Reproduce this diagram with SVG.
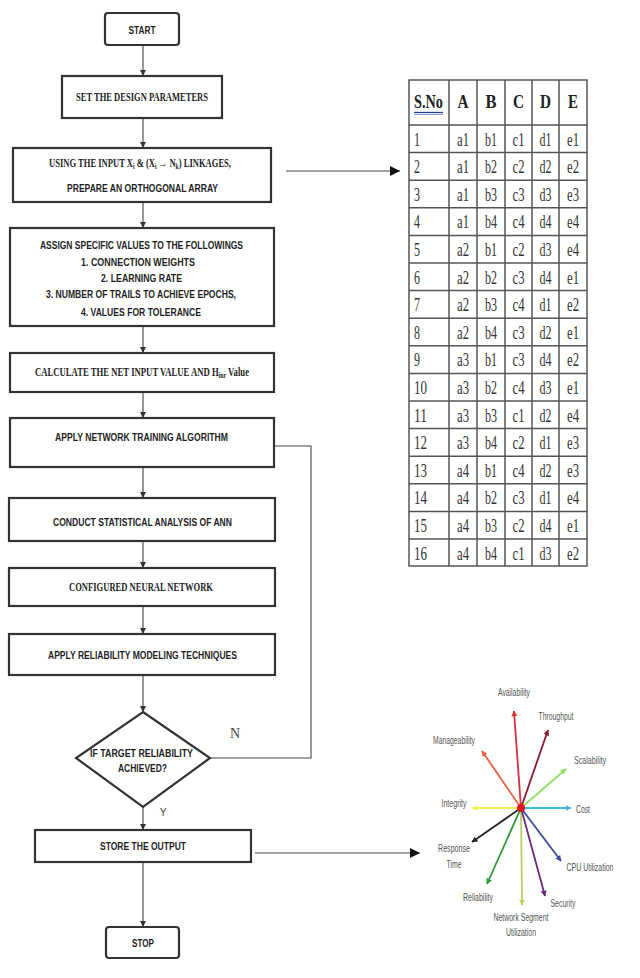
<svg xmlns="http://www.w3.org/2000/svg" width="640" height="978" viewBox="0 0 640 978">
  <style>
    .box { fill: #fff; stroke: #333; stroke-width: 2.2; }
    .sans { font-family: "Liberation Sans", Arial, sans-serif; font-weight: bold; font-size: 11px; fill: #1e1e1e; text-anchor: middle; }
    .serif { font-family: "Liberation Serif", "Times New Roman", serif; font-weight: bold; font-size: 12px; fill: #1e1e1e; text-anchor: middle; }
    .sub { font-size: 8px; baseline-shift: -2px; }
    .flow { fill: none; stroke: #444; stroke-width: 1.1; }
    .grid { stroke: #555; stroke-width: 1.5; fill: none; }
    .cell { font-family: "Liberation Serif", "Times New Roman", serif; font-size: 19px; fill: #333; text-anchor: middle; }
    .head { font-family: "Liberation Serif", "Times New Roman", serif; font-size: 19px; font-weight: bold; fill: #222; text-anchor: middle; }
    .lbl { font-family: "Liberation Sans", Arial, sans-serif; font-size: 11px; fill: #555; text-anchor: middle; }
    .spoke { fill: none; stroke-width: 1.8; }
  </style>
  <defs>
    <marker id="ah" viewBox="0 0 10 10" refX="10" refY="5" markerWidth="6" markerHeight="7" markerUnits="userSpaceOnUse" orient="auto">
      <path d="M0,0 L10,5 L0,10 Z" fill="#333"/>
    </marker>
    <marker id="ahBig" viewBox="0 0 10 10" refX="10" refY="5" markerWidth="10" markerHeight="11" markerUnits="userSpaceOnUse" orient="auto">
      <path d="M0,0 L10,5 L0,10 Z" fill="#111"/>
    </marker>
    <marker id="m-avail" viewBox="0 0 10 10" refX="9" refY="5" markerWidth="6" markerHeight="6" markerUnits="userSpaceOnUse" orient="auto"><path d="M0,0 L10,5 L0,10 Z" fill="#d4303a"/></marker>
    <marker id="m-thru" viewBox="0 0 10 10" refX="9" refY="5" markerWidth="6" markerHeight="6" markerUnits="userSpaceOnUse" orient="auto"><path d="M0,0 L10,5 L0,10 Z" fill="#8b1a2e"/></marker>
    <marker id="m-manage" viewBox="0 0 10 10" refX="9" refY="5" markerWidth="6" markerHeight="6" markerUnits="userSpaceOnUse" orient="auto"><path d="M0,0 L10,5 L0,10 Z" fill="#f0603a"/></marker>
    <marker id="m-scale" viewBox="0 0 10 10" refX="9" refY="5" markerWidth="6" markerHeight="6" markerUnits="userSpaceOnUse" orient="auto"><path d="M0,0 L10,5 L0,10 Z" fill="#8fe060"/></marker>
    <marker id="m-cost" viewBox="0 0 10 10" refX="9" refY="5" markerWidth="6" markerHeight="6" markerUnits="userSpaceOnUse" orient="auto"><path d="M0,0 L10,5 L0,10 Z" fill="#40b8d8"/></marker>
    <marker id="m-integ" viewBox="0 0 10 10" refX="9" refY="5" markerWidth="6" markerHeight="6" markerUnits="userSpaceOnUse" orient="auto"><path d="M0,0 L10,5 L0,10 Z" fill="#f0f050"/></marker>
    <marker id="m-resp" viewBox="0 0 10 10" refX="9" refY="5" markerWidth="6" markerHeight="6" markerUnits="userSpaceOnUse" orient="auto"><path d="M0,0 L10,5 L0,10 Z" fill="#222"/></marker>
    <marker id="m-rel" viewBox="0 0 10 10" refX="9" refY="5" markerWidth="6" markerHeight="6" markerUnits="userSpaceOnUse" orient="auto"><path d="M0,0 L10,5 L0,10 Z" fill="#2a9a3a"/></marker>
    <marker id="m-net" viewBox="0 0 10 10" refX="9" refY="5" markerWidth="6" markerHeight="6" markerUnits="userSpaceOnUse" orient="auto"><path d="M0,0 L10,5 L0,10 Z" fill="#b8d060"/></marker>
    <marker id="m-sec" viewBox="0 0 10 10" refX="9" refY="5" markerWidth="6" markerHeight="6" markerUnits="userSpaceOnUse" orient="auto"><path d="M0,0 L10,5 L0,10 Z" fill="#6a2a7a"/></marker>
    <marker id="m-cpu" viewBox="0 0 10 10" refX="9" refY="5" markerWidth="6" markerHeight="6" markerUnits="userSpaceOnUse" orient="auto"><path d="M0,0 L10,5 L0,10 Z" fill="#3a4a9a"/></marker>
  </defs>

  <rect width="640" height="978" fill="#fff"/>

  <!-- connectors -->
  <g id="connectors">
    <line class="flow" x1="143" y1="45" x2="143" y2="76" marker-end="url(#ah)"/>
    <line class="flow" x1="143" y1="118" x2="143" y2="148" marker-end="url(#ah)"/>
    <line class="flow" x1="143" y1="202" x2="143" y2="228" marker-end="url(#ah)"/>
    <line class="flow" x1="143" y1="326" x2="143" y2="353" marker-end="url(#ah)"/>
    <line class="flow" x1="143" y1="392" x2="143" y2="418" marker-end="url(#ah)"/>
    <line class="flow" x1="143" y1="467" x2="143" y2="498" marker-end="url(#ah)"/>
    <line class="flow" x1="143" y1="541" x2="143" y2="568" marker-end="url(#ah)"/>
    <line class="flow" x1="143" y1="606" x2="143" y2="634" marker-end="url(#ah)"/>
    <line class="flow" x1="143" y1="675" x2="143" y2="712" marker-end="url(#ah)"/>
    <line class="flow" x1="143" y1="807" x2="143" y2="830" marker-end="url(#ah)"/>
    <line class="flow" x1="143" y1="862" x2="143" y2="927" marker-end="url(#ah)"/>
    <!-- "N" branch loops back to the training step -->
    <polyline class="flow" stroke="#333" stroke-width="1.5" points="210,758 311,758 311,446 274,446"/>
    <!-- outputs to the array table and the metrics chart -->
    <line class="flow" stroke="#111" stroke-width="1.5" x1="286" y1="171" x2="400" y2="171" marker-end="url(#ahBig)"/>
    <line class="flow" stroke="#111" stroke-width="1.5" x1="255" y1="853" x2="420" y2="853" marker-end="url(#ahBig)"/>
  </g>

  <!-- flowchart nodes -->
  <g id="start">
    <rect class="box" x="105" y="13" width="74" height="32" rx="3"/>
    <text class="sans" x="142" y="34" textLength="27" lengthAdjust="spacingAndGlyphs">START</text>
  </g>
  <g id="set-params">
    <rect class="box" x="62" y="76" width="160" height="42"/>
    <text class="serif" x="142" y="101" textLength="132" lengthAdjust="spacingAndGlyphs">SET THE DESIGN PARAMETERS</text>
  </g>
  <g id="orthogonal-array">
    <rect class="box" x="13" y="148" width="258" height="54"/>
    <text class="serif" x="140" y="167" textLength="182" lengthAdjust="spacingAndGlyphs">USING THE INPUT X<tspan class="sub">i</tspan> &amp; (X<tspan class="sub">i</tspan> → N<tspan class="sub">k</tspan>) LINKAGES,</text>
    <text class="sans" x="142.5" y="192" textLength="151" lengthAdjust="spacingAndGlyphs">PREPARE AN ORTHOGONAL ARRAY</text>
  </g>
  <g id="assign-values">
    <rect class="box" x="10" y="228" width="264" height="98"/>
    <text class="sans" x="141.5" y="249" textLength="203" lengthAdjust="spacingAndGlyphs">ASSIGN SPECIFIC VALUES TO THE FOLLOWINGS</text>
    <text class="sans" x="138" y="266" textLength="114" lengthAdjust="spacingAndGlyphs">1. CONNECTION WEIGHTS</text>
    <text class="sans" x="141.5" y="282" textLength="81" lengthAdjust="spacingAndGlyphs">2. LEARNING RATE</text>
    <text class="sans" x="141" y="298" textLength="190" lengthAdjust="spacingAndGlyphs">3. NUMBER OF TRAILS TO ACHIEVE EPOCHS,</text>
    <text class="sans" x="141" y="316" textLength="120" lengthAdjust="spacingAndGlyphs">4. VALUES FOR TOLERANCE</text>
  </g>
  <g id="net-input">
    <rect class="box" x="10" y="353" width="264" height="39"/>
    <text class="serif" x="142" y="376" textLength="214" lengthAdjust="spacingAndGlyphs">CALCULATE THE NET INPUT VALUE AND H<tspan class="sub">inr</tspan> Value</text>
  </g>
  <g id="training">
    <rect class="box" x="10" y="418" width="264" height="49"/>
    <text class="sans" x="141.5" y="441" textLength="173" lengthAdjust="spacingAndGlyphs">APPLY NETWORK TRAINING ALGORITHM</text>
  </g>
  <g id="statistical-analysis">
    <rect class="box" x="9" y="498" width="266" height="43"/>
    <text class="sans" x="142.5" y="526" textLength="179" lengthAdjust="spacingAndGlyphs">CONDUCT STATISTICAL ANALYSIS OF ANN</text>
  </g>
  <g id="configured-network">
    <rect class="box" x="9" y="568" width="266" height="38"/>
    <text class="serif" x="141" y="591" textLength="144" lengthAdjust="spacingAndGlyphs">CONFIGURED NEURAL NETWORK</text>
  </g>
  <g id="reliability-modeling">
    <rect class="box" x="9" y="634" width="266" height="41"/>
    <text class="sans" x="142.5" y="659" textLength="189" lengthAdjust="spacingAndGlyphs">APPLY RELIABILITY MODELING TECHNIQUES</text>
  </g>
  <g id="decision">
    <polygon class="box" points="143,712 210,758 143,807 76,758"/>
    <text class="sans" x="141.5" y="757" textLength="103" lengthAdjust="spacingAndGlyphs">IF TARGET RELIABILITY</text>
    <text class="sans" x="142.5" y="772" textLength="49" lengthAdjust="spacingAndGlyphs">ACHIEVED?</text>
    <text x="235" y="738" font-family="Liberation Serif, serif" font-size="14" fill="#444" text-anchor="middle">N</text>
    <text x="163" y="816" font-family="Liberation Sans, sans-serif" font-size="10" fill="#444" text-anchor="middle">Y</text>
  </g>
  <g id="store-output">
    <rect class="box" x="35" y="830" width="216" height="32"/>
    <text class="sans" x="143" y="850" textLength="86" lengthAdjust="spacingAndGlyphs">STORE THE OUTPUT</text>
  </g>
  <g id="stop">
    <rect class="box" x="106" y="927" width="73" height="31" rx="3"/>
    <text class="sans" x="143" y="947" textLength="22" lengthAdjust="spacingAndGlyphs">STOP</text>
  </g>

  <!-- orthogonal array table -->
  <g id="array-table">
    <rect class="grid" x="409" y="80" width="178" height="486"/>
    <line class="grid" x1="449" y1="80" x2="449" y2="566"/>
    <line class="grid" x1="477" y1="80" x2="477" y2="566"/>
    <line class="grid" x1="505" y1="80" x2="505" y2="566"/>
    <line class="grid" x1="532" y1="80" x2="532" y2="566"/>
    <line class="grid" x1="559" y1="80" x2="559" y2="566"/>
    <g class="grid">
      <line x1="409" y1="125" x2="587" y2="125"/>
      <line x1="409" y1="152.6" x2="587" y2="152.6"/>
      <line x1="409" y1="180.2" x2="587" y2="180.2"/>
      <line x1="409" y1="207.8" x2="587" y2="207.8"/>
      <line x1="409" y1="235.4" x2="587" y2="235.4"/>
      <line x1="409" y1="263" x2="587" y2="263"/>
      <line x1="409" y1="290.6" x2="587" y2="290.6"/>
      <line x1="409" y1="318.2" x2="587" y2="318.2"/>
      <line x1="409" y1="345.8" x2="587" y2="345.8"/>
      <line x1="409" y1="373.4" x2="587" y2="373.4"/>
      <line x1="409" y1="401" x2="587" y2="401"/>
      <line x1="409" y1="428.6" x2="587" y2="428.6"/>
      <line x1="409" y1="456.2" x2="587" y2="456.2"/>
      <line x1="409" y1="483.8" x2="587" y2="483.8"/>
      <line x1="409" y1="511.4" x2="587" y2="511.4"/>
      <line x1="409" y1="539" x2="587" y2="539"/>
    </g>
    <!-- header -->
    <text class="head" x="428.5" y="108" textLength="29" lengthAdjust="spacingAndGlyphs">S.No</text>
    <line x1="414" y1="112.5" x2="443" y2="112.5" stroke="#2a3f8f" stroke-width="1.3"/>
    <line x1="414" y1="114.5" x2="443" y2="114.5" stroke="#8fa4d8" stroke-width="1"/>
    <text class="head" x="463" y="108" textLength="11" lengthAdjust="spacingAndGlyphs">A</text>
    <text class="head" x="491" y="108" textLength="11" lengthAdjust="spacingAndGlyphs">B</text>
    <text class="head" x="518.5" y="108" textLength="11" lengthAdjust="spacingAndGlyphs">C</text>
    <text class="head" x="545.5" y="108" textLength="11" lengthAdjust="spacingAndGlyphs">D</text>
    <text class="head" x="573" y="108" textLength="10" lengthAdjust="spacingAndGlyphs">E</text>
    <!-- rows -->
    <g class="cell">
      <text x="417" y="145.5" textLength="6" lengthAdjust="spacingAndGlyphs">1</text><text x="463" y="145.5" textLength="12" lengthAdjust="spacingAndGlyphs">a1</text><text x="491" y="145.5" textLength="12" lengthAdjust="spacingAndGlyphs">b1</text><text x="518.5" y="145.5" textLength="12" lengthAdjust="spacingAndGlyphs">c1</text><text x="545.5" y="145.5" textLength="12" lengthAdjust="spacingAndGlyphs">d1</text><text x="573" y="145.5" textLength="12" lengthAdjust="spacingAndGlyphs">e1</text>
      <text x="417" y="173.1" textLength="6" lengthAdjust="spacingAndGlyphs">2</text><text x="463" y="173.1" textLength="12" lengthAdjust="spacingAndGlyphs">a1</text><text x="491" y="173.1" textLength="12" lengthAdjust="spacingAndGlyphs">b2</text><text x="518.5" y="173.1" textLength="12" lengthAdjust="spacingAndGlyphs">c2</text><text x="545.5" y="173.1" textLength="12" lengthAdjust="spacingAndGlyphs">d2</text><text x="573" y="173.1" textLength="12" lengthAdjust="spacingAndGlyphs">e2</text>
      <text x="417" y="200.7" textLength="6" lengthAdjust="spacingAndGlyphs">3</text><text x="463" y="200.7" textLength="12" lengthAdjust="spacingAndGlyphs">a1</text><text x="491" y="200.7" textLength="12" lengthAdjust="spacingAndGlyphs">b3</text><text x="518.5" y="200.7" textLength="12" lengthAdjust="spacingAndGlyphs">c3</text><text x="545.5" y="200.7" textLength="12" lengthAdjust="spacingAndGlyphs">d3</text><text x="573" y="200.7" textLength="12" lengthAdjust="spacingAndGlyphs">e3</text>
      <text x="417" y="228.3" textLength="6" lengthAdjust="spacingAndGlyphs">4</text><text x="463" y="228.3" textLength="12" lengthAdjust="spacingAndGlyphs">a1</text><text x="491" y="228.3" textLength="12" lengthAdjust="spacingAndGlyphs">b4</text><text x="518.5" y="228.3" textLength="12" lengthAdjust="spacingAndGlyphs">c4</text><text x="545.5" y="228.3" textLength="12" lengthAdjust="spacingAndGlyphs">d4</text><text x="573" y="228.3" textLength="12" lengthAdjust="spacingAndGlyphs">e4</text>
      <text x="417" y="255.9" textLength="6" lengthAdjust="spacingAndGlyphs">5</text><text x="463" y="255.9" textLength="12" lengthAdjust="spacingAndGlyphs">a2</text><text x="491" y="255.9" textLength="12" lengthAdjust="spacingAndGlyphs">b1</text><text x="518.5" y="255.9" textLength="12" lengthAdjust="spacingAndGlyphs">c2</text><text x="545.5" y="255.9" textLength="12" lengthAdjust="spacingAndGlyphs">d3</text><text x="573" y="255.9" textLength="12" lengthAdjust="spacingAndGlyphs">e4</text>
      <text x="417" y="283.5" textLength="6" lengthAdjust="spacingAndGlyphs">6</text><text x="463" y="283.5" textLength="12" lengthAdjust="spacingAndGlyphs">a2</text><text x="491" y="283.5" textLength="12" lengthAdjust="spacingAndGlyphs">b2</text><text x="518.5" y="283.5" textLength="12" lengthAdjust="spacingAndGlyphs">c3</text><text x="545.5" y="283.5" textLength="12" lengthAdjust="spacingAndGlyphs">d4</text><text x="573" y="283.5" textLength="12" lengthAdjust="spacingAndGlyphs">e1</text>
      <text x="417" y="311.1" textLength="6" lengthAdjust="spacingAndGlyphs">7</text><text x="463" y="311.1" textLength="12" lengthAdjust="spacingAndGlyphs">a2</text><text x="491" y="311.1" textLength="12" lengthAdjust="spacingAndGlyphs">b3</text><text x="518.5" y="311.1" textLength="12" lengthAdjust="spacingAndGlyphs">c4</text><text x="545.5" y="311.1" textLength="12" lengthAdjust="spacingAndGlyphs">d1</text><text x="573" y="311.1" textLength="12" lengthAdjust="spacingAndGlyphs">e2</text>
      <text x="417" y="338.7" textLength="6" lengthAdjust="spacingAndGlyphs">8</text><text x="463" y="338.7" textLength="12" lengthAdjust="spacingAndGlyphs">a2</text><text x="491" y="338.7" textLength="12" lengthAdjust="spacingAndGlyphs">b4</text><text x="518.5" y="338.7" textLength="12" lengthAdjust="spacingAndGlyphs">c3</text><text x="545.5" y="338.7" textLength="12" lengthAdjust="spacingAndGlyphs">d2</text><text x="573" y="338.7" textLength="12" lengthAdjust="spacingAndGlyphs">e1</text>
      <text x="417" y="366.3" textLength="6" lengthAdjust="spacingAndGlyphs">9</text><text x="463" y="366.3" textLength="12" lengthAdjust="spacingAndGlyphs">a3</text><text x="491" y="366.3" textLength="12" lengthAdjust="spacingAndGlyphs">b1</text><text x="518.5" y="366.3" textLength="12" lengthAdjust="spacingAndGlyphs">c3</text><text x="545.5" y="366.3" textLength="12" lengthAdjust="spacingAndGlyphs">d4</text><text x="573" y="366.3" textLength="12" lengthAdjust="spacingAndGlyphs">e2</text>
      <text x="420.5" y="393.9" textLength="13" lengthAdjust="spacingAndGlyphs">10</text><text x="463" y="393.9" textLength="12" lengthAdjust="spacingAndGlyphs">a3</text><text x="491" y="393.9" textLength="12" lengthAdjust="spacingAndGlyphs">b2</text><text x="518.5" y="393.9" textLength="12" lengthAdjust="spacingAndGlyphs">c4</text><text x="545.5" y="393.9" textLength="12" lengthAdjust="spacingAndGlyphs">d3</text><text x="573" y="393.9" textLength="12" lengthAdjust="spacingAndGlyphs">e1</text>
      <text x="420.5" y="421.5" textLength="13" lengthAdjust="spacingAndGlyphs">11</text><text x="463" y="421.5" textLength="12" lengthAdjust="spacingAndGlyphs">a3</text><text x="491" y="421.5" textLength="12" lengthAdjust="spacingAndGlyphs">b3</text><text x="518.5" y="421.5" textLength="12" lengthAdjust="spacingAndGlyphs">c1</text><text x="545.5" y="421.5" textLength="12" lengthAdjust="spacingAndGlyphs">d2</text><text x="573" y="421.5" textLength="12" lengthAdjust="spacingAndGlyphs">e4</text>
      <text x="420.5" y="449.1" textLength="13" lengthAdjust="spacingAndGlyphs">12</text><text x="463" y="449.1" textLength="12" lengthAdjust="spacingAndGlyphs">a3</text><text x="491" y="449.1" textLength="12" lengthAdjust="spacingAndGlyphs">b4</text><text x="518.5" y="449.1" textLength="12" lengthAdjust="spacingAndGlyphs">c2</text><text x="545.5" y="449.1" textLength="12" lengthAdjust="spacingAndGlyphs">d1</text><text x="573" y="449.1" textLength="12" lengthAdjust="spacingAndGlyphs">e3</text>
      <text x="420.5" y="476.7" textLength="13" lengthAdjust="spacingAndGlyphs">13</text><text x="463" y="476.7" textLength="12" lengthAdjust="spacingAndGlyphs">a4</text><text x="491" y="476.7" textLength="12" lengthAdjust="spacingAndGlyphs">b1</text><text x="518.5" y="476.7" textLength="12" lengthAdjust="spacingAndGlyphs">c4</text><text x="545.5" y="476.7" textLength="12" lengthAdjust="spacingAndGlyphs">d2</text><text x="573" y="476.7" textLength="12" lengthAdjust="spacingAndGlyphs">e3</text>
      <text x="420.5" y="504.3" textLength="13" lengthAdjust="spacingAndGlyphs">14</text><text x="463" y="504.3" textLength="12" lengthAdjust="spacingAndGlyphs">a4</text><text x="491" y="504.3" textLength="12" lengthAdjust="spacingAndGlyphs">b2</text><text x="518.5" y="504.3" textLength="12" lengthAdjust="spacingAndGlyphs">c3</text><text x="545.5" y="504.3" textLength="12" lengthAdjust="spacingAndGlyphs">d1</text><text x="573" y="504.3" textLength="12" lengthAdjust="spacingAndGlyphs">e4</text>
      <text x="420.5" y="531.9" textLength="13" lengthAdjust="spacingAndGlyphs">15</text><text x="463" y="531.9" textLength="12" lengthAdjust="spacingAndGlyphs">a4</text><text x="491" y="531.9" textLength="12" lengthAdjust="spacingAndGlyphs">b3</text><text x="518.5" y="531.9" textLength="12" lengthAdjust="spacingAndGlyphs">c2</text><text x="545.5" y="531.9" textLength="12" lengthAdjust="spacingAndGlyphs">d4</text><text x="573" y="531.9" textLength="12" lengthAdjust="spacingAndGlyphs">e1</text>
      <text x="420.5" y="559.5" textLength="13" lengthAdjust="spacingAndGlyphs">16</text><text x="463" y="559.5" textLength="12" lengthAdjust="spacingAndGlyphs">a4</text><text x="491" y="559.5" textLength="12" lengthAdjust="spacingAndGlyphs">b4</text><text x="518.5" y="559.5" textLength="12" lengthAdjust="spacingAndGlyphs">c1</text><text x="545.5" y="559.5" textLength="12" lengthAdjust="spacingAndGlyphs">d3</text><text x="573" y="559.5" textLength="12" lengthAdjust="spacingAndGlyphs">e2</text>
    </g>
  </g>

  <!-- reliability metrics star chart -->
  <g id="metrics-chart">
    <line class="spoke" stroke="#d4303a" x1="521" y1="808" x2="514" y2="711" marker-end="url(#m-avail)"/>
    <line class="spoke" stroke="#8b1a2e" x1="521" y1="808" x2="548" y2="730" marker-end="url(#m-thru)"/>
    <line class="spoke" stroke="#f0603a" x1="521" y1="808" x2="482" y2="751" marker-end="url(#m-manage)"/>
    <line class="spoke" stroke="#8fe060" x1="521" y1="808" x2="566" y2="769" marker-end="url(#m-scale)"/>
    <line class="spoke" stroke="#40b8d8" x1="521" y1="808" x2="571" y2="808" marker-end="url(#m-cost)"/>
    <line class="spoke" stroke="#f0f050" x1="521" y1="808" x2="472" y2="808" marker-end="url(#m-integ)"/>
    <line class="spoke" stroke="#222" x1="521" y1="808" x2="472" y2="842" marker-end="url(#m-resp)"/>
    <line class="spoke" stroke="#2a9a3a" x1="521" y1="808" x2="487" y2="884" marker-end="url(#m-rel)"/>
    <line class="spoke" stroke="#b8d060" x1="521" y1="808" x2="522" y2="905" marker-end="url(#m-net)"/>
    <line class="spoke" stroke="#6a2a7a" x1="521" y1="808" x2="545" y2="896" marker-end="url(#m-sec)"/>
    <line class="spoke" stroke="#3a4a9a" x1="521" y1="808" x2="561" y2="861" marker-end="url(#m-cpu)"/>
    <circle cx="521" cy="808" r="4" fill="#d81820"/>

    <text class="lbl" x="514" y="696" textLength="32" lengthAdjust="spacingAndGlyphs">Availability</text>
    <text class="lbl" x="556" y="720" textLength="35" lengthAdjust="spacingAndGlyphs">Throughput</text>
    <text class="lbl" x="454" y="744" textLength="42" lengthAdjust="spacingAndGlyphs">Manageability</text>
    <text class="lbl" x="590" y="764" textLength="32" lengthAdjust="spacingAndGlyphs">Scalability</text>
    <text class="lbl" x="454" y="807" textLength="25" lengthAdjust="spacingAndGlyphs">Integrity</text>
    <text class="lbl" x="583" y="813" textLength="14" lengthAdjust="spacingAndGlyphs">Cost</text>
    <text class="lbl" x="454" y="852" textLength="32" lengthAdjust="spacingAndGlyphs">Response</text>
    <text class="lbl" x="454" y="868" textLength="15" lengthAdjust="spacingAndGlyphs">Time</text>
    <text class="lbl" x="590" y="871" textLength="47" lengthAdjust="spacingAndGlyphs">CPU Utilization</text>
    <text class="lbl" x="478" y="901" textLength="30" lengthAdjust="spacingAndGlyphs">Reliability</text>
    <text class="lbl" x="563" y="907" textLength="25" lengthAdjust="spacingAndGlyphs">Security</text>
    <text class="lbl" x="521" y="921" textLength="55" lengthAdjust="spacingAndGlyphs">Network Segment</text>
    <text class="lbl" x="521" y="936" textLength="30" lengthAdjust="spacingAndGlyphs">Utilization</text>
  </g>
</svg>
